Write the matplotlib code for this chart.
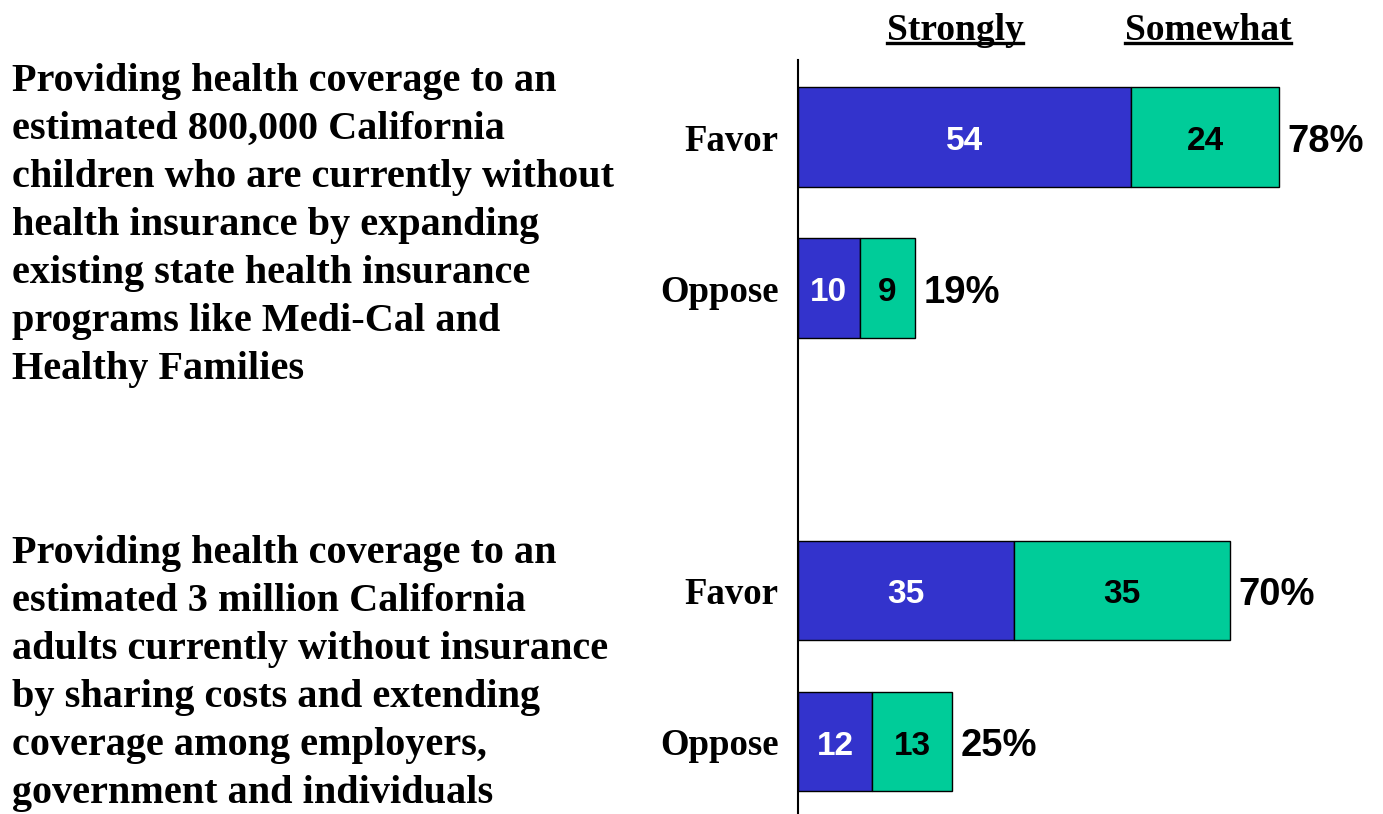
import matplotlib
matplotlib.use("Agg")
import matplotlib.pyplot as plt
from matplotlib.lines import Line2D

# survey results (percent)
questions = [
    "Providing health coverage to an\nestimated 800,000 California\nchildren who are currently without\nhealth insurance by expanding\nexisting state health insurance\nprograms like Medi-Cal and\nHealthy Families",
    "Providing health coverage to an\nestimated 3 million California\nadults currently without insurance\nby sharing costs and extending\ncoverage among employers,\ngovernment and individuals",
]
row_labels = ["Favor", "Oppose", "Favor", "Oppose"]
row_pos = [0, 1, 3, 4]
strongly = [54, 10, 35, 12]
somewhat = [24, 9, 35, 13]
totals = [78, 19, 70, 25]

BLUE = "#3333CC"
GREEN = "#00CC99"
SERIF = "Liberation Serif"
SANS = "Liberation Sans"

W, H = 1383, 814
fig = plt.figure(figsize=(W / 100, H / 100), dpi=100)
ax = fig.add_axes([798 / W, 0, 1 - 798 / W, (H - 60) / H])

ax.barh(row_pos, strongly, height=0.66, color=BLUE, edgecolor="black", linewidth=1)
ax.barh(row_pos, somewhat, left=strongly, height=0.66, color=GREEN,
        edgecolor="black", linewidth=1)

# labels sit a touch below the bar centre
dy = 0.03
for y, s, m, t in zip(row_pos, strongly, somewhat, totals):
    ax.text(s / 2, y + dy, str(s), ha="center", va="center", color="white",
            fontsize=24, fontweight="bold", family=SANS)
    ax.text(s + m / 2, y + dy, str(m), ha="center", va="center", color="black",
            fontsize=24, fontweight="bold", family=SANS)
    ax.text(s + m + 1.3, y + dy, f"{t}%", ha="left", va="center", color="black",
            fontsize=27.5, fontweight="bold", family=SANS)

ax.set_xlim(0, (W - 798) / 6.17)
ax.set_ylim(4.48, -0.51)
ax.set_yticks(row_pos)
ax.set_yticklabels(row_labels, family=SERIF, fontweight="bold", fontsize=26.5)
ax.tick_params(axis="y", length=0, pad=14)
ax.set_xticks([])
for side in ["top", "right", "bottom"]:
    ax.spines[side].set_visible(False)
ax.spines["left"].set_linewidth(1.5)

# question wording on the left
fig.text(12 / W, 1 - 63 / H, questions[0], ha="left", va="top", family=SERIF,
         fontweight="bold", fontsize=29, linespacing=1.39)
fig.text(12 / W, 1 - 535 / H, questions[1], ha="left", va="top", family=SERIF,
         fontweight="bold", fontsize=29, linespacing=1.39)

# underlined column headers
headers = []
for label, xc in [("Strongly", 955), ("Somewhat", 1208)]:
    headers.append(fig.text(xc / W, 1 - 31 / H, label, ha="center", va="center",
                            family=SERIF, fontweight="bold", fontsize=27))
fig.canvas.draw()
renderer = fig.canvas.get_renderer()
for t in headers:
    bb = t.get_window_extent(renderer).transformed(fig.transFigure.inverted())
    y = 1 - 43 / H
    fig.add_artist(Line2D([bb.x0, bb.x1], [y, y], transform=fig.transFigure,
                          color="black", linewidth=2.4))

fig.savefig("out.png", dpi=100, facecolor="white")
